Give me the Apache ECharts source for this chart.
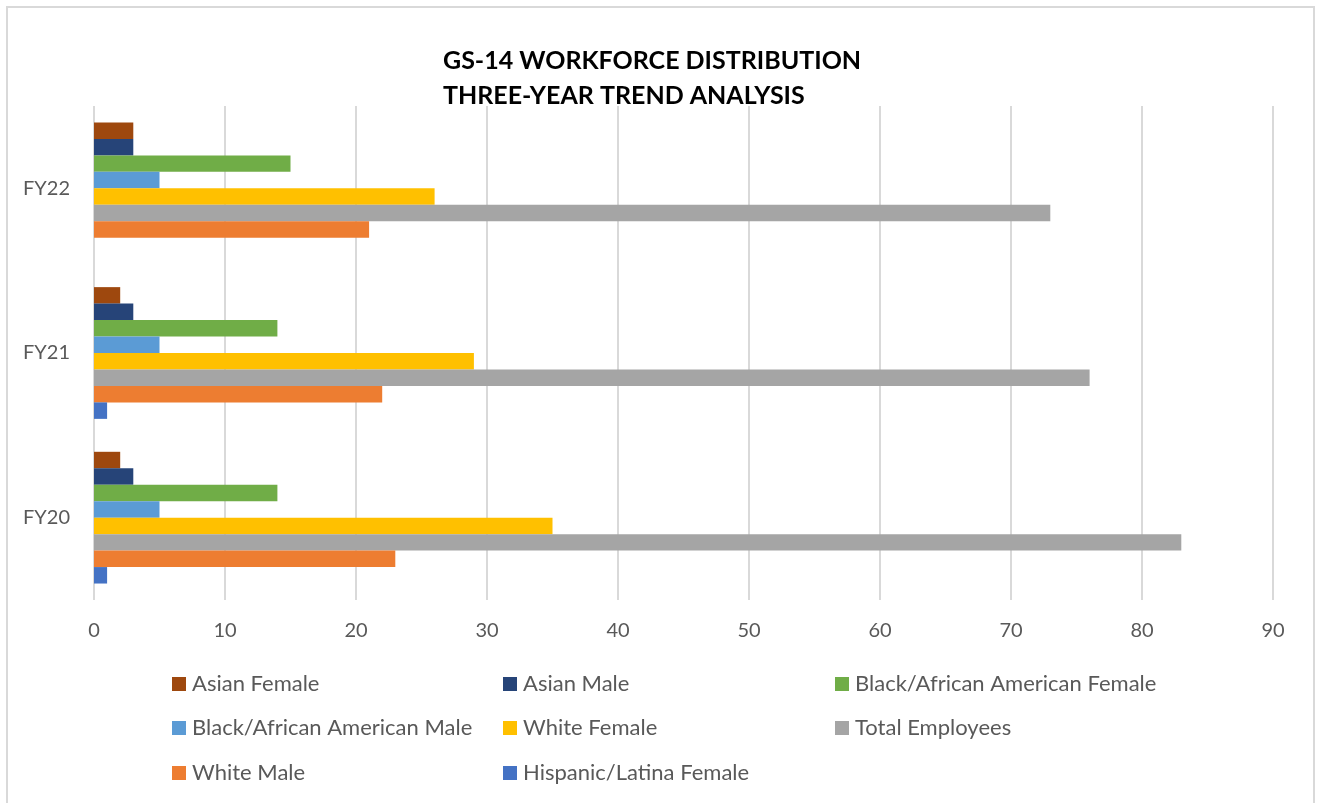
<!DOCTYPE html>
<html>
<head>
<meta charset="utf-8">
<script src="https://cdn.jsdelivr.net/npm/echarts@6/dist/echarts.min.js"></script>
<style>
  html, body { margin: 0; padding: 0; background: #fff; }
  #chart { width: 1317px; height: 803px; }
</style>
</head>
<body>
<div id="chart"></div>
<script>
// 数据
var years = ['FY20', 'FY21', 'FY22'];
var asianFemale = [2, 2, 3];
var asianMale = [3, 3, 3];
var blackFemale = [14, 14, 15];
var blackMale = [5, 5, 5];
var whiteFemale = [35, 29, 26];
var totalEmployees = [83, 76, 73];
var whiteMale = [23, 22, 21];
var hispanicFemale = [1, 1, 0];
var xTicks = [0, 10, 20, 30, 40, 50, 60, 70, 80, 90];

// 图例顺序（与原图一致）
var legendNames = ['Asian Female', 'Asian Male', 'Black/African American Female',
	'Black/African American Male', 'White Female', 'Total Employees',
	'White Male', 'Hispanic/Latina Female'];

var colX = [172, 503, 835];
var rowY = [673, 717, 762];
var legends = legendNames.map(function (n, i) {
	return {
		data: [n],
		left: colX[i % 3],
		top: rowY[Math.floor(i / 3)],
		padding: 0,
		icon: 'rect',
		itemWidth: 14,
		itemHeight: 14,
		itemGap: 0,
		textStyle: {
			fontFamily: 'Lato',
			fontSize: 22,
			color: '#595959',
			padding: [0, 0, 0, 1]
		}
	};
});

function bar(name, data, color) {
	return {
		name: name,
		type: 'bar',
		data: data,
		barGap: '0%',
		barCategoryGap: '20%',
		itemStyle: { color: color },
		emphasis: { disabled: true }
	};
}

var myChart = echarts.init(document.getElementById('chart'));
var option = {
	animation: false,
	title: {
		text: 'GS-14 WORKFORCE DISTRIBUTION\nTHREE-YEAR TREND ANALYSIS',
		left: 438,
		top: 38,
		textStyle: {
			fontFamily: 'Lato',
			fontWeight: 'bold',
			fontSize: 25,
			lineHeight: 35,
			color: '#000'
		}
	},
	graphic: [{
		type: 'rect',
		shape: { x: 7, y: 7, width: 1307, height: 800 },
		style: { fill: 'none', stroke: '#d9d9d9', lineWidth: 2 },
		silent: true
	}],
	legend: legends,
	grid: {
		left: 94,
		right: 44,
		top: 106,
		bottom: 203
	},
	xAxis: {
		type: 'value',
		min: 0,
		max: 90,
		interval: 10,
		axisLine: { show: false },
		axisTick: { show: false },
		splitLine: { lineStyle: { color: '#d9d9d9', width: 2 } },
		axisLabel: {
			fontFamily: 'Lato',
			fontSize: 20,
			color: '#595959',
			margin: 21,
			formatter: function (v) { return xTicks.indexOf(v) >= 0 ? String(v) : ''; }
		}
	},
	yAxis: {
		type: 'category',
		data: years,
		axisLine: { show: false },
		axisTick: { show: false },
		axisLabel: {
			fontFamily: 'Lato',
			fontSize: 20,
			color: '#595959',
			margin: 24
		}
	},
	// 第一个系列画在每组最上方
	series: [
		bar('Asian Female', asianFemale, '#9E480E'),
		bar('Asian Male', asianMale, '#264478'),
		bar('Black/African American Female', blackFemale, '#70AD47'),
		bar('Black/African American Male', blackMale, '#5B9BD5'),
		bar('White Female', whiteFemale, '#FFC000'),
		bar('Total Employees', totalEmployees, '#A5A5A5'),
		bar('White Male', whiteMale, '#ED7D31'),
		bar('Hispanic/Latina Female', hispanicFemale, '#4472C4')
	]
};
myChart.setOption(option);
</script>
</body>
</html>
